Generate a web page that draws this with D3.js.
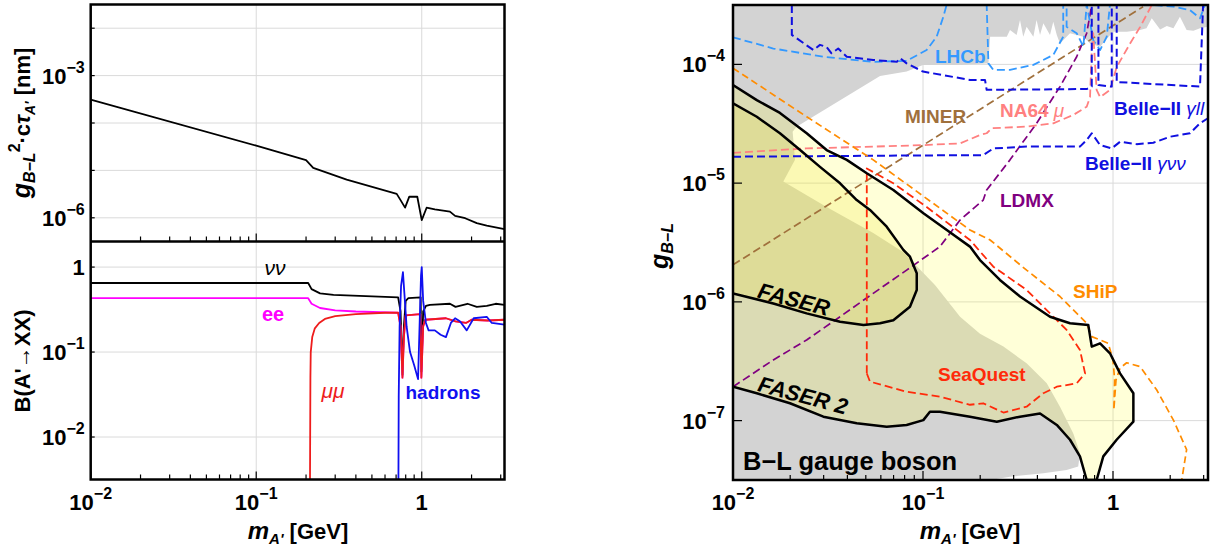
<!DOCTYPE html>
<html><head><meta charset="utf-8">
<script src="https://cdn.jsdelivr.net/npm/d3@7"></script>
<style>
body{margin:0;background:#fff}
text{font-family:"Liberation Sans",Arial,Helvetica,sans-serif}
</style></head>
<body><svg id="chart" width="1213" height="556"></svg>
<script>
// ---------------- DATA ----------------
const massTicksMajor = [0.01, 0.1, 1];
const topYTicks = [1e-2, 1e-3, 1e-4, 1e-5, 1e-6];
const topYLabels = [-3, -6];
const brYTicks = [1, 0.1, 0.01];
const brYLabels = [0, -1, -2];
const rightYTicks = [1e-4, 1e-5, 1e-6, 1e-7];
const rightYLabels = [-4, -5, -6, -7];
const massLabels = [-2, -1, 0];

const lifetime = [[0.01,3.13e-4],[0.1,3.33e-5],[0.2,1.64e-5],[0.221,1.13e-5],[0.352,6.4e-6],[0.706,3.2e-6],[0.74,2.45e-6],[0.793,1.64e-6],[0.841,2.8e-6],[0.94,2.78e-6],[1.0,8.9e-7],[1.07,1.63e-6],[1.2,1.5e-6],[1.48,1.35e-6],[1.59,1.1e-6],[1.83,9.8e-7],[2.15,7.7e-7],[2.47,6.8e-7],[3.16,5.8e-7]];

const brNuNu = [[0.01,0.65],[0.206,0.65],[0.216,0.55],[0.243,0.49],[0.293,0.47],[0.72,0.44],[0.745,0.3],[0.765,0.054],[0.78,0.2],[0.8,0.4],[0.83,0.43],[0.985,0.44],[0.995,0.059],[1.02,0.3],[1.06,0.35],[1.12,0.36],[1.48,0.37],[1.6,0.34],[1.89,0.37],[2.15,0.34],[2.47,0.35],[2.8,0.37],[3.16,0.36]];
const brEE = [[0.01,0.43],[0.206,0.43],[0.216,0.37],[0.243,0.33],[0.3,0.31],[0.4,0.3],[0.72,0.29],[0.745,0.2],[0.765,0.05],[0.78,0.15],[0.8,0.27],[0.98,0.28],[0.995,0.05],[1.02,0.2],[1.05,0.24],[1.4,0.25],[1.6,0.23],[1.85,0.22],[2.0,0.24],[2.5,0.235],[3.16,0.24]];
const brMuMu = [[0.2113,0.0031],[0.2125,0.05],[0.2135,0.1],[0.218,0.15],[0.226,0.19],[0.24,0.22],[0.26,0.245],[0.3,0.265],[0.4,0.28],[0.6,0.29],[0.72,0.29],[0.745,0.2],[0.765,0.05],[0.78,0.15],[0.8,0.27],[0.98,0.28],[0.995,0.05],[1.02,0.2],[1.05,0.24],[1.4,0.25],[1.6,0.23],[1.85,0.22],[2.0,0.24],[2.5,0.235],[3.16,0.24]];
const brHadrons = [[0.723,0.0031],[0.726,0.03],[0.735,0.2],[0.75,0.6],[0.77,0.87],[0.785,0.5],[0.81,0.2],[0.85,0.1],[0.9,0.07],[0.95,0.048],[0.97,0.2],[0.99,0.8],[1.0,1.0],[1.02,0.4],[1.06,0.22],[1.1,0.18],[1.2,0.18],[1.3,0.16],[1.4,0.15],[1.5,0.22],[1.59,0.25],[1.7,0.23],[1.87,0.18],[2.06,0.25],[2.47,0.26],[2.65,0.22],[3.16,0.21]];

const excluded = [[0.01,3.16e-4],[3.16,3.16e-4],[3.16,2.07e-4],[2.87,2.01e-4],[2.65,1.92e-4],[2.44,1.95e-4],[2.25,2.52e-4],[2.08,2.01e-4],[1.92,2.1e-4],[1.77,1.97e-4],[1.6,2.44e-4],[1.5,2.01e-4],[1.39,1.95e-4],[1.18,1.88e-4],[1.0,1.88e-4],[0.855,1.41e-4],[0.757,1.5e-4],[0.698,1.71e-4],[0.594,1.83e-4],[0.526,1.5e-4],[0.506,1.77e-4],[0.485,2.29e-4],[0.466,1.77e-4],[0.43,2.22e-4],[0.413,1.77e-4],[0.396,2.36e-4],[0.381,1.71e-4],[0.351,2.07e-4],[0.337,1.71e-4],[0.324,2.36e-4],[0.311,1.77e-4],[0.287,1.95e-4],[0.276,1.71e-4],[0.2255,1.71e-4],[0.221,1.02e-4],[0.1567,9.9e-5],[0.1,9.9e-5],[0.082,8.7e-5],[0.0594,8.0e-5],[0.0216,2.99e-5],[0.0206,2.71e-5],[0.0212,1.57e-5],[0.0184,1.03e-5],[0.0311,6.3e-6],[0.0547,3.8e-6],[0.0785,2.63e-6],[0.1156,1.39e-6],[0.1567,7.5e-7],[0.1995,5.4e-7],[0.265,4.2e-7],[0.351,3.04e-7],[0.448,2.06e-7],[0.526,1.31e-7],[0.618,7.8e-8],[0.67,5.3e-8],[0.656,4.1e-8],[0.57,3.84e-8],[0.43,3.6e-8],[0.287,3.37e-8],[0.2255,3.16e-8],[0.01,3.16e-8]];

const faser2 = [[0.01,6.7e-5],[0.01334,5.0e-5],[0.01766,3.9e-5],[0.02443,2.63e-5],[0.0311,1.9e-5],[0.0397,1.57e-5],[0.0506,1.21e-5],[0.0698,8.75e-6],[0.1005,5.57e-6],[0.1334,4.03e-6],[0.1767,2.92e-6],[0.1995,2.25e-6],[0.254,1.53e-6],[0.324,1.11e-6],[0.466,7.5e-7],[0.594,6.6e-7],[0.741,6.4e-7],[0.773,4.2e-7],[0.855,4.48e-7],[0.964,3.69e-7],[1.089,2.5e-7],[1.28,1.7e-7],[1.28,9.8e-8],[1.045,6.9e-8],[0.889,5.0e-8],[0.82,3.16e-8],[0.727,3.16e-8],[0.67,5.0e-8],[0.594,6.9e-8],[0.506,9.2e-8],[0.413,1.15e-7],[0.324,1.08e-7],[0.2445,9.8e-8],[0.1767,1.08e-7],[0.1228,1.19e-7],[0.1088,1.19e-7],[0.1004,1.01e-7],[0.082,9.2e-8],[0.0644,8.9e-8],[0.0448,9.5e-8],[0.0299,1.08e-7],[0.01995,1.4e-7],[0.01334,1.7e-7],[0.01,1.93e-7]];

const faser = [[0.01,4.7e-5],[0.01334,3.62e-5],[0.01766,2.63e-5],[0.02255,1.9e-5],[0.0287,1.37e-5],[0.0366,9.97e-6],[0.0448,7.2e-6],[0.0526,5.94e-6],[0.0644,4.3e-6],[0.0788,2.74e-6],[0.0854,2.4e-6],[0.0927,1.74e-6],[0.0927,1.26e-6],[0.0854,9.1e-7],[0.0698,7.0e-7],[0.0594,6.6e-7],[0.0486,6.4e-7],[0.0366,6.8e-7],[0.0244,8.0e-7],[0.0163,9.7e-7],[0.01,1.18e-6]];

const ship = [[0.01,9.3e-5],[0.02443,3.62e-5],[0.0547,1.57e-5],[0.1767,4.03e-6],[0.2255,3.32e-6],[0.351,1.85e-6],[0.526,1.11e-6],[0.727,6.6e-7],[0.773,5.1e-7],[0.855,4.78e-7],[0.944,4.48e-7],[1.0,3.24e-7],[1.02,2.2e-7],[1.01,1.23e-7],[1.037,2.2e-7],[1.089,2.77e-7],[1.18,3.07e-7],[1.39,2.85e-7],[1.7,1.81e-7],[2.08,1.01e-7],[2.44,5.7e-8],[2.3,3.16e-8]];

const seaquest = [[0.0506,2.5e-7],[0.0506,1.33e-5],[0.0698,9.97e-6],[0.1045,6.3e-6],[0.1767,3.32e-6],[0.2344,1.98e-6],[0.351,1.26e-6],[0.485,7.5e-7],[0.57,5.8e-7],[0.67,3.94e-7],[0.713,2.5e-7],[0.644,2.06e-7],[0.506,1.93e-7],[0.43,1.7e-7],[0.351,1.31e-7],[0.265,1.17e-7],[0.2075,1.4e-7],[0.1767,1.36e-7],[0.1228,1.59e-7],[0.082,1.75e-7],[0.0526,2.13e-7],[0.0506,2.5e-7]];

const ldmx = [[0.01,1.93e-7],[0.0163,3.24e-7],[0.0244,4.78e-7],[0.0366,7.5e-7],[0.0547,1.18e-6],[0.082,1.85e-6],[0.1228,2.92e-6],[0.1567,4.89e-6],[0.2075,7.2e-6],[0.2163,8.75e-6],[0.287,1.57e-5],[0.396,3.19e-5],[0.526,6.5e-5],[0.644,1.16e-4],[0.727,1.83e-4],[0.773,3.16e-4]];

const miner = [[0.01,2.05e-6],[1.44,3.06e-4]];

const belleNuNu = [[0.01,1.67e-5],[0.1767,1.72e-5],[0.2075,1.72e-5],[0.2344,1.96e-5],[0.351,2.03e-5],[0.67,2.03e-5],[0.727,2.31e-5],[0.773,2.63e-5],[0.855,2.09e-5],[0.985,1.96e-5],[1.089,2.23e-5],[1.33,2.13e-5],[1.63,2.19e-5],[2.0,2.46e-5],[2.54,2.63e-5],[2.87,3.19e-5],[3.16,3.52e-5]];

const belleLL = [[0.0204,3.16e-4],[0.0204,1.77e-4],[0.0265,1.32e-4],[0.0287,1.46e-4],[0.0311,1.4e-4],[0.033,1.24e-4],[0.0358,1.36e-4],[0.0397,1.16e-4],[0.0547,1.09e-4],[0.0728,1.05e-4],[0.0757,1.13e-4],[0.082,1.02e-4],[0.1,8.7e-5],[0.1767,7.4e-5],[0.212,7.4e-5],[0.2163,6.1e-5],[0.727,6.2e-5],[0.773,6.5e-5],[0.773,3.16e-4],[0.838,3.16e-4],[0.838,6.7e-5],[0.985,6.5e-5],[0.985,3.16e-4],[1.046,3.16e-4],[1.046,7.1e-5],[2.87,6.5e-5],[2.98,3.16e-4]];

const lhcb = [[0.01,1.69e-4],[0.0163,1.36e-4],[0.0299,1.16e-4],[0.0547,1.05e-4],[0.082,1.07e-4],[0.1045,1.32e-4],[0.118,1.71e-4],[0.128,2.52e-4],[0.1333,3.2e-4],[0.2163,3.2e-4],[0.221,1.02e-4],[0.2344,9.0e-5],[0.287,9.0e-5],[0.381,9.9e-5],[0.485,1.2e-4],[0.547,1.71e-4],[0.547,3.2e-4],[0.57,3.2e-4],[0.57,2.07e-4],[0.644,1.83e-4],[0.698,1.41e-4],[0.727,3.2e-4],[0.787,1.6e-4],[0.855,1.32e-4],[0.927,1.71e-4],[0.964,3.2e-4],[1.5,3.2e-4],[2.08,3.06e-4],[2.54,2.87e-4],[2.87,2.44e-4],[2.98,2.87e-4],[3.05,3.2e-4]];

const na64mu = [[0.01,1.8e-5],[0.0244,1.96e-5],[0.0547,2.03e-5],[0.1,2.09e-5],[0.1567,2.16e-5],[0.1995,2.54e-5],[0.2163,2.63e-5],[0.23,2.9e-5],[0.351,2.99e-5],[0.485,3.19e-5],[0.618,3.75e-5],[0.727,4.4e-5],[0.757,5.3e-5],[0.773,1.32e-4],[0.787,1.83e-4],[0.82,6.1e-5],[0.855,5.3e-5],[0.964,6.1e-5],[1.046,9.5e-5],[1.23,1.5e-4],[1.39,2.07e-4],[1.6,3.16e-4]];

// ---------------- DRAW ----------------
const svg = d3.select("#chart");
svg.append("rect").attr("width",1213).attr("height",556).attr("fill","#fff");

const xL = d3.scaleLog().domain([0.01, Math.pow(10,0.5)]).range([90.7, 504.5]);
const yT = d3.scaleLog().domain([Math.pow(10,-6.5), Math.pow(10,-1.5)]).range([241.5, 4.5]);
const yB = d3.scaleLog().domain([Math.pow(10,-2.5), 2]).range([479.5, 241.5]);
const xR = d3.scaleLog().domain([0.01, Math.pow(10,0.5)]).range([733, 1208]);
const yR = d3.scaleLog().domain([Math.pow(10,-7.5), Math.pow(10,-3.5)]).range([480, 5]);
const TICK = 22, SUP = 16;

const defs = svg.append("defs");
function clip(id, x, y, w, h){ defs.append("clipPath").attr("id",id).append("rect").attr("x",x).attr("y",y).attr("width",w).attr("height",h); return "url(#"+id+")"; }
const [lx0,lx1] = xL.range();
const cT = clip("cT", lx0, 4.5, lx1-lx0, 237);
const cB = clip("cB", lx0, 241.5, lx1-lx0, 238);
const cR = clip("cR", 733, 5, 475, 475);

function minorTicks(dom){
  const out=[]; for(let d=0.001; d<100; d*=10){ for(let k=2;k<=9;k++){ const v=k*d; if(v>dom[0]*1.0001 && v<dom[1]*0.9999) out.push(v);} } return out;
}
function grid(g, xs, ys, xv, yv){
  const [x0,x1]=xs.range(), [y0,y1]=ys.range();
  xv.forEach(v=>g.append("line").attr("x1",xs(v)).attr("x2",xs(v)).attr("y1",y0).attr("y2",y1).attr("stroke","#dadada").attr("stroke-width",1));
  yv.forEach(v=>g.append("line").attr("x1",x0).attr("x2",x1).attr("y1",ys(v)).attr("y2",ys(v)).attr("stroke","#dadada").attr("stroke-width",1));
}
function path(g, data, xs, ys, color, w, dash, cp){
  const p = g.append("path").attr("d", d3.line().x(d=>xs(d[0])).y(d=>ys(d[1]))(data))
    .attr("fill","none").attr("stroke",color).attr("stroke-width",w).attr("stroke-linejoin","round").attr("clip-path",cp);
  if(dash) p.attr("stroke-dasharray",dash);
  return p;
}
function powLabel(t, e){
  if(e===0){ t.text("1"); return; }
  t.append("tspan").text("10");
  t.append("tspan").attr("font-size",SUP).attr("dy",-11).text("\u2212"+Math.abs(e));
}

// ===== LEFT TOP =====
const gT = svg.append("g");
grid(gT, xL, yT, [0.1,1], topYTicks);
path(gT, lifetime, xL, yT, "#000", 1.8, null, cT);

// ===== LEFT BOTTOM =====
const gB = svg.append("g");
grid(gB, xL, yB, [0.1,1], brYTicks);
path(gB, brNuNu, xL, yB, "#000", 1.8, null, cB);
path(gB, brEE, xL, yB, "#ff00ff", 1.8, null, cB);
path(gB, brMuMu, xL, yB, "#ee1c1c", 1.8, null, cB);
path(gB, brHadrons, xL, yB, "#1010f0", 1.8, null, cB);

svg.append("rect").attr("x",lx0).attr("y",4.5).attr("width",lx1-lx0).attr("height",475).attr("fill","none").attr("stroke","#000").attr("stroke-width",2.5);
svg.append("line").attr("x1",lx0).attr("x2",lx1).attr("y1",241.5).attr("y2",241.5).attr("stroke","#000").attr("stroke-width",2.5);

const minorsL = minorTicks(xL.domain());
[241.5, 479.5].forEach(yb=>{
  massTicksMajor.forEach(v=>svg.append("line").attr("x1",xL(v)).attr("x2",xL(v)).attr("y1",yb).attr("y2",yb-8).attr("stroke","#000").attr("stroke-width",1.2));
  minorsL.forEach(v=>svg.append("line").attr("x1",xL(v)).attr("x2",xL(v)).attr("y1",yb).attr("y2",yb-5).attr("stroke","#000").attr("stroke-width",1.2));
});
topYTicks.forEach(v=>svg.append("line").attr("x1",lx0).attr("x2",lx0+4).attr("y1",yT(v)).attr("y2",yT(v)).attr("stroke","#000").attr("stroke-width",1.2));
brYTicks.forEach(v=>svg.append("line").attr("x1",lx0).attr("x2",lx0+4).attr("y1",yB(v)).attr("y2",yB(v)).attr("stroke","#000").attr("stroke-width",1.2));

topYLabels.forEach(e=>{ const t=svg.append("text").attr("x",lx0-6).attr("y",yT(Math.pow(10,e))+8).attr("text-anchor","end").attr("font-size",TICK).attr("font-weight","bold"); powLabel(t,e); });
brYLabels.forEach(e=>{ const t=svg.append("text").attr("x",lx0-6).attr("y",yB(Math.pow(10,e))+8).attr("text-anchor","end").attr("font-size",TICK).attr("font-weight","bold"); powLabel(t,e); });
massLabels.forEach(e=>{ const t=svg.append("text").attr("x",xL(Math.pow(10,e))).attr("y",510).attr("text-anchor","middle").attr("font-size",TICK).attr("font-weight","bold"); powLabel(t,e); });

svg.append("text").attr("x",275).attr("y",275).attr("text-anchor","middle").attr("font-size",21).attr("font-style","italic").text("\u03bd\u03bd");
svg.append("text").attr("x",273).attr("y",321).attr("text-anchor","middle").attr("font-size",20).attr("font-weight","bold").attr("fill","#ff00ff").text("ee");
svg.append("text").attr("x",333).attr("y",398).attr("text-anchor","middle").attr("font-size",21).attr("font-style","italic").attr("fill","#ee1c1c").text("\u03bc\u03bc");
svg.append("text").attr("x",443).attr("y",399).attr("text-anchor","middle").attr("font-size",19).attr("font-weight","bold").attr("fill","#1010f0").text("hadrons");

function xTitle(cx){
  const t=svg.append("text").attr("x",cx).attr("y",539).attr("text-anchor","middle").attr("font-size",22).attr("font-weight","bold");
  t.append("tspan").attr("font-style","italic").attr("font-size",24).text("m");
  t.append("tspan").attr("font-style","italic").attr("font-size",15).attr("dy",5).text("A'");
  t.append("tspan").attr("dy",-5).text(" [GeV]");
}
xTitle(298);
{
  const t=svg.append("text").attr("transform","translate(30,123) rotate(-90)").attr("text-anchor","middle").attr("font-size",22).attr("font-weight","bold");
  t.append("tspan").attr("font-style","italic").attr("font-size",25).text("g");
  t.append("tspan").attr("font-style","italic").attr("font-size",16).attr("dy",5).text("B\u2212L");
  t.append("tspan").attr("font-size",16).attr("dy",-15).text("2");
  t.append("tspan").attr("dy",10).text("\u00b7c");
  t.append("tspan").attr("font-style","italic").text("\u03c4");
  t.append("tspan").attr("font-style","italic").attr("font-size",14).attr("dy",5).text("A'");
  t.append("tspan").attr("dy",-5).text(" [nm]");
}
svg.append("text").attr("transform","translate(30,361) rotate(-90)").attr("text-anchor","middle").attr("font-size",22).attr("font-weight","bold").text("B(A'\u2192XX)");

// ===== RIGHT PANEL =====
const gR = svg.append("g");
grid(gR, xR, yR, [0.1,1], rightYTicks);
const area = d3.line().x(d=>xR(d[0])).y(d=>yR(d[1]));
gR.append("path").attr("d", area(excluded)+"Z").attr("fill","#d3d3d3").attr("clip-path",cR);
gR.append("path").attr("d", area(faser2)+"Z").attr("fill","rgba(255,255,60,0.2)").attr("clip-path",cR);
gR.append("path").attr("d", area(faser)+"Z").attr("fill","rgba(235,225,40,0.2)").attr("clip-path",cR);

path(gR, miner, xR, yR, "#a0703c", 1.7, "8,4", cR);
path(gR, ldmx, xR, yR, "#800080", 1.7, "8,4", cR);
path(gR, lhcb, xR, yR, "#3399ff", 1.8, "8,4", cR);
path(gR, na64mu, xR, yR, "#ff8080", 1.8, "8,4", cR);
path(gR, belleNuNu, xR, yR, "#1010e0", 2, "8,4", cR);
path(gR, belleLL, xR, yR, "#1010e0", 2, "8,4", cR);
path(gR, ship, xR, yR, "#ff8c00", 1.7, "7,4", cR);
path(gR, seaquest, xR, yR, "#ff2a0a", 1.8, "8,4", cR);
path(gR, faser2, xR, yR, "#000", 2.5, null, cR);
path(gR, faser, xR, yR, "#000", 2.5, null, cR);

svg.append("rect").attr("x",733).attr("y",5).attr("width",475).attr("height",475).attr("fill","none").attr("stroke","#000").attr("stroke-width",2.5);
const minorsR = minorTicks(xR.domain());
massTicksMajor.forEach(v=>svg.append("line").attr("x1",xR(v)).attr("x2",xR(v)).attr("y1",480).attr("y2",471).attr("stroke","#000").attr("stroke-width",1.2));
minorsR.forEach(v=>svg.append("line").attr("x1",xR(v)).attr("x2",xR(v)).attr("y1",480).attr("y2",475).attr("stroke","#000").attr("stroke-width",1.2));
const yMinR = minorTicks(yR.domain());
rightYTicks.forEach(v=>svg.append("line").attr("x1",733).attr("x2",742).attr("y1",yR(v)).attr("y2",yR(v)).attr("stroke","#000").attr("stroke-width",1.2));
yMinR.forEach(v=>svg.append("line").attr("x1",733).attr("x2",738).attr("y1",yR(v)).attr("y2",yR(v)).attr("stroke","#000").attr("stroke-width",1.2));
rightYLabels.forEach(e=>{ const t=svg.append("text").attr("x",725).attr("y",yR(Math.pow(10,e))+8).attr("text-anchor","end").attr("font-size",TICK).attr("font-weight","bold"); powLabel(t,e); });
massLabels.forEach(e=>{ const t=svg.append("text").attr("x",xR(Math.pow(10,e))).attr("y",510).attr("text-anchor","middle").attr("font-size",TICK).attr("font-weight","bold"); powLabel(t,e); });
xTitle(970);
{
  const t=svg.append("text").attr("transform","translate(668,246) rotate(-90)").attr("text-anchor","middle").attr("font-size",25).attr("font-weight","bold").attr("font-style","italic");
  t.append("tspan").text("g");
  t.append("tspan").attr("font-size",16).attr("dy",5).text("B\u2212L");
}

function lab(x,y,txt,color,size){ return svg.append("text").attr("x",x).attr("y",y).attr("font-size",size||19).attr("font-weight","bold").attr("fill",color).text(txt); }
lab(935,63,"LHCb","#3399ff");
lab(905,123,"MINER","#a0703c");
{ const t=lab(1000,117,"NA64 ","#ff8080"); t.append("tspan").attr("font-style","italic").attr("font-weight","normal").text("\u03bc"); }
{ const t=lab(1114,115,"Belle\u2212II ","#1010e0"); t.append("tspan").attr("font-style","italic").attr("font-weight","normal").text("\u03b3ll"); }
{ const t=lab(1085,170,"Belle\u2212II ","#1010e0"); t.append("tspan").attr("font-style","italic").attr("font-weight","normal").text("\u03b3\u03bd\u03bd"); }
lab(1000,207,"LDMX","#800080");
lab(1073,298,"SHiP","#ff8c00");
lab(938,381,"SeaQuest","#ff2a0a");
svg.append("text").attr("transform","translate(794,299) rotate(15)").attr("y",8).attr("text-anchor","middle").attr("font-size",22).attr("font-weight","bold").attr("font-style","italic").text("FASER");
svg.append("text").attr("transform","translate(803,395) rotate(15)").attr("y",8).attr("text-anchor","middle").attr("font-size",22).attr("font-weight","bold").attr("font-style","italic").text("FASER 2");
lab(743,470,"B\u2212L gauge boson","#000",25.5);
</script></body></html>
